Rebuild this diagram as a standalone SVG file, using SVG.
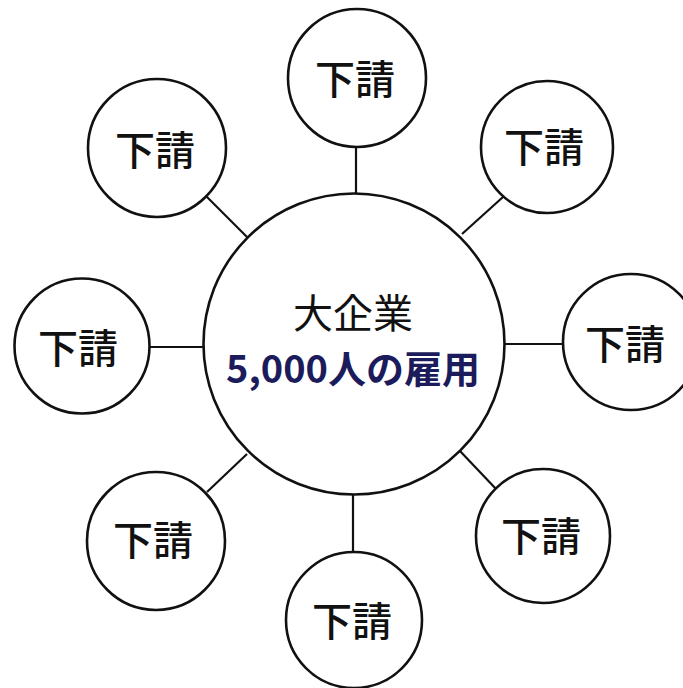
<svg xmlns="http://www.w3.org/2000/svg" width="683" height="688" viewBox="0 0 683 688">
<style>
.c{fill:#fff;stroke:#111;stroke-width:2.6}
.l{stroke:#111;stroke-width:2.2;fill:none}
.t{font-family:"Noto Sans CJK JP","Noto Sans",sans-serif;font-size:40px;font-weight:500;fill:#111;text-anchor:middle;dominant-baseline:central}
.m{font-family:"Noto Sans CJK JP","Noto Sans",sans-serif;font-size:40px;font-weight:400;fill:#111;text-anchor:middle;dominant-baseline:central}
.b{font-family:"Noto Sans CJK JP","Noto Sans",sans-serif;font-size:38px;font-weight:700;fill:#1c1c5c;text-anchor:middle;dominant-baseline:central}
</style>
<rect width="683" height="688" fill="#fff"/>
<g id="connectors">
<line class="l" x1="356" y1="147" x2="356" y2="195"/>
<line class="l" x1="206" y1="196" x2="248" y2="238"/>
<line class="l" x1="503" y1="197" x2="462" y2="234"/>
<line class="l" x1="150" y1="347" x2="204" y2="347"/>
<line class="l" x1="504" y1="344" x2="563" y2="344"/>
<line class="l" x1="207" y1="492" x2="247" y2="454"/>
<line class="l" x1="353" y1="494" x2="353" y2="552"/>
<line class="l" x1="497" y1="490" x2="459" y2="450"/>
</g>
<g id="center">
<circle class="c" cx="354" cy="344" r="150.5"/>
<text class="m" x="353" y="311">大企業</text>
<text class="b" x="353" y="366">5,000人の雇用</text>
</g>
<g id="n-top"><circle class="c" cx="357" cy="78" r="69"/><text class="t" x="355" y="77">下請</text></g>
<g id="n-topleft"><circle class="c" cx="157" cy="148" r="69"/><text class="t" x="155" y="148">下請</text></g>
<g id="n-topright"><circle class="c" cx="547" cy="147" r="66"/><text class="t" x="544" y="145">下請</text></g>
<g id="n-left"><circle class="c" cx="82" cy="346" r="67.5"/><text class="t" x="78" y="346">下請</text></g>
<g id="n-right"><circle class="c" cx="631" cy="342" r="68"/><text class="t" x="625" y="342">下請</text></g>
<g id="n-bottomleft"><circle class="c" cx="156" cy="541" r="69"/><text class="t" x="153" y="538">下請</text></g>
<g id="n-bottom"><circle class="c" cx="354" cy="620" r="68"/><text class="t" x="352" y="619">下請</text></g>
<g id="n-bottomright"><circle class="c" cx="543" cy="536" r="67"/><text class="t" x="541" y="534">下請</text></g>
</svg>
